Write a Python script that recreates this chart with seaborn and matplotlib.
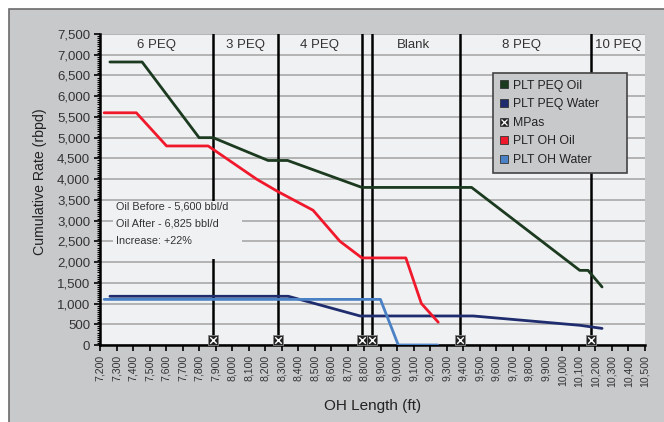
import matplotlib
matplotlib.use("Agg")
import matplotlib.pyplot as plt
import matplotlib.transforms as mtransforms
from matplotlib.lines import Line2D
from matplotlib.patches import Rectangle
from matplotlib.legend_handler import HandlerTuple
from matplotlib.ticker import MultipleLocator, FuncFormatter
import seaborn as sns
import pandas as pd

# series (ft, rbpd)
peq_oil_x = [7260, 7455, 7800, 7885, 8218, 8336, 8786, 9450, 10105, 10155, 10240]
peq_oil_y = [6825, 6825, 5000, 5000, 4450, 4450, 3800, 3800, 1800, 1800, 1400]

peq_water_x = [7260, 8340, 8775, 9460, 10106, 10240]
peq_water_y = [1175, 1175, 700, 700, 475, 400]

oh_oil_x = [7225, 7420, 7603, 7855, 8148, 8277, 8490, 8653, 8786, 9052, 9146, 9248]
oh_oil_y = [5600, 5600, 4800, 4800, 4000, 3700, 3250, 2500, 2100, 2100, 1000, 550]

oh_water_x = [7225, 8898, 9006, 9245]
oh_water_y = [1100, 1100, 0, 0]

mpas_x = [7885, 8277, 8786, 8846, 9377, 10176]

section_labels = ["6 PEQ", "3 PEQ", "4 PEQ", "Blank", "8 PEQ", "10 PEQ"]
section_centers = [7545, 8078, 8532, 9100, 9755, 10335]

note_lines = ["Oil Before - 5,600 bbl/d", "Oil After - 6,825 bbl/d", "Increase: +22%"]

sns.set_style("white")
plt.rcParams['font.family'] = ['Liberation Sans', 'DejaVu Sans']

fig_bg = "#c8c9cb"
ax_bg = "#f0f1f3"
c_peq_oil = "#1b3a1f"
c_peq_water = "#1f2d6e"
c_oh_oil = "#f0192c"
c_oh_water = "#4a80c4"
txt = "#333333"

fig = plt.figure(figsize=(6.64, 4.22), dpi=100)
fig.patch.set_facecolor("white")
# grey panel with a dark border on top/left
fig.patches.append(Rectangle((9 / 664, -0.1), 1.2, 1 - 9 / 422 + 0.1, transform=fig.transFigure,
                             facecolor=fig_bg, edgecolor="#6b6b6b", linewidth=1.2, zorder=-5))

ax = fig.add_axes([100 / 664, 1 - 345 / 422, 545 / 664, 311 / 422])
ax.set_facecolor(ax_bg)

ax.set_xlim(7200, 10500)
ax.set_ylim(0, 7500)
ax.yaxis.set_major_locator(MultipleLocator(500))
ax.yaxis.set_minor_locator(MultipleLocator(50))
ax.xaxis.set_major_locator(MultipleLocator(100))
comma = FuncFormatter(lambda v, p: f"{int(v):,}")
ax.yaxis.set_major_formatter(comma)
ax.xaxis.set_major_formatter(comma)
ax.grid(axis="y", color="#a8a8a8", linewidth=1.2, zorder=0)
ax.set_axisbelow(True)

for s in ["top", "right"]:
    ax.spines[s].set_visible(False)
for s in ["left", "bottom"]:
    ax.spines[s].set_color("black")
    ax.spines[s].set_linewidth(1.8)

ax.tick_params(axis="y", which="major", length=4, width=1.2, color="black",
               labelsize=9.5, labelcolor=txt, pad=3, left=True)
ax.tick_params(axis="y", which="minor", length=2, width=0.8, color="black", left=True)
ax.tick_params(axis="x", which="major", length=4, width=1.2, color="black",
               labelsize=7.6, labelcolor=txt, rotation=90, pad=3, bottom=True)

# MPas section boundaries
for xv in mpas_x:
    ax.axvline(xv, color="black", linewidth=1.8, zorder=2)

# note box
ax.add_patch(Rectangle((7280, 2080), 780, 1400, facecolor=ax_bg, edgecolor="none", zorder=3))
for i, t in enumerate(note_lines):
    ax.text(7297, 3330 - i * 410, t, fontsize=7.8, color=txt, va="center", ha="left", zorder=4)

lw = 2.0
sns.lineplot(x=peq_oil_x, y=peq_oil_y, ax=ax, color=c_peq_oil, linewidth=lw, sort=False, zorder=5)
sns.lineplot(x=peq_water_x, y=peq_water_y, ax=ax, color=c_peq_water, linewidth=lw, sort=False, zorder=5)
sns.lineplot(x=oh_oil_x, y=oh_oil_y, ax=ax, color=c_oh_oil, linewidth=lw, sort=False, zorder=5)
sns.lineplot(x=oh_water_x, y=oh_water_y, ax=ax, color=c_oh_water, linewidth=lw, sort=False, zorder=5)

# MPas markers sitting just above the x axis
up = mtransforms.offset_copy(ax.transData, fig=fig, x=0, y=5, units="dots")
ax.scatter(mpas_x, [0] * len(mpas_x), marker="s", s=55, color="#222222", edgecolor="#888888",
           linewidth=0.6, zorder=6, clip_on=False, transform=up)
ax.scatter(mpas_x, [0] * len(mpas_x), marker="x", s=22, color="white", linewidth=1.0,
           zorder=7, clip_on=False, transform=up)

for lab, xc in zip(section_labels, section_centers):
    ax.text(xc, 7240, lab, ha="center", va="center", fontsize=9.5, color=txt, zorder=4)

ax.set_xlabel("OH Length (ft)", fontsize=11, color="#222222", labelpad=9)
ax.set_ylabel("Cumulative Rate (rbpd)", fontsize=10.2, color="#222222")
ax.yaxis.set_label_coords(-0.097, 0.524)

def sq(c):
    return Line2D([], [], marker="s", linestyle="none", markersize=6, markerfacecolor=c,
                  markeredgecolor="#333333", markeredgewidth=0.6)

mp_handle = (sq("#222222"), Line2D([], [], marker="x", linestyle="none", markersize=4,
                                    markeredgecolor="white", markeredgewidth=0.9))
handles = [sq(c_peq_oil), sq(c_peq_water), mp_handle, sq(c_oh_oil), sq(c_oh_water)]
labels = ["PLT PEQ Oil", "PLT PEQ Water", "MPas", "PLT OH Oil", "PLT OH Water"]
leg = ax.legend(handles, labels, loc="upper left", bbox_to_anchor=(0.721, 0.553, 0.246, 0.322),
                mode="expand", handler_map={tuple: HandlerTuple(ndivide=1, pad=0)},
                fontsize=8.8, frameon=True, fancybox=False, framealpha=1,
                facecolor=fig_bg, edgecolor="#444444", handlelength=0.7,
                handletextpad=0.4, labelspacing=0.54, borderpad=0.55, borderaxespad=0)
leg.get_frame().set_linewidth(1.2)
leg.set_zorder(10)
for t in leg.get_texts():
    t.set_color("#222222")

fig.savefig("out.png", dpi=100, facecolor=fig.get_facecolor())
